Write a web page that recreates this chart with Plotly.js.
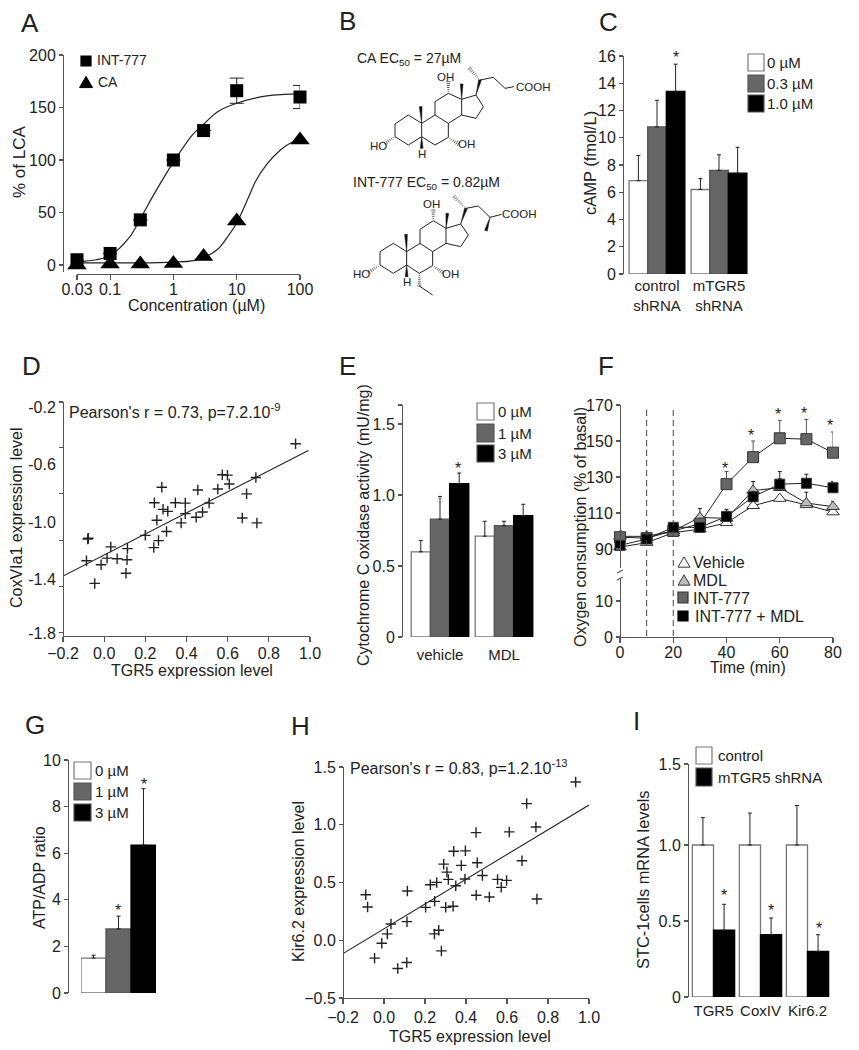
<!DOCTYPE html>
<html><head><meta charset="utf-8">
<script src="https://cdn.plot.ly/plotly-3.0.0.min.js"></script>
<style>html,body{margin:0;padding:0;background:#fff}#c{width:859px;height:1050px}</style>
</head><body><div id="c"></div>
<script>
// ---------- Panel A
const concTicks=[0.03,0.1,1,10,100];
const concTickText=['0.03','0.1','1','10','100'];
const doseConc=[0.03,0.1,0.3,1,3,10,100];
const int777Dose=[5,11,43,100,128,166,160];
const int777DoseErr=[0,0,0,0,0,12,11];
const caDose=[0,1,1,1.5,8,42,119];
const fitConcInt=[0.03,0.06,0.1,0.2,0.3,0.5,1,2,3,5,10,30,100];
const fitInt=[3,5,9,26,44,68,98,124,134,146,154,161,163];
const fitConcCa=[0.03,0.1,0.3,1,2,3,5,7,10,15,20,30,50,70,100];
const fitCa=[2,2,2,2.8,4,7,15,26,40,63,80,96,110,116,119];
// ---------- Panel C
const cGroups=['control<br>shRNA','mTGR5<br>shRNA'];
const c0=[6.85,6.2],c0Err=[1.85,0.8];
const c03=[10.8,7.6],c03Err=[1.95,1.15];
const c10=[13.4,7.4],c10Err=[2.0,1.9];
const cLegend=['0 µM','0.3 µM','1.0 µM'];
// ---------- Panel D
const dX=[0.930,0.574,0.599,0.608,0.552,0.455,0.737,0.692,0.280,0.244,0.346,0.394,0.286,0.309,0.510,0.478,0.394,0.447,0.671,0.742,0.256,0.374,0.303,0.200,0.264,0.241,0.113,0.032,-0.077,-0.080,0.111,0.063,0.014,-0.086,-0.015,0.106,-0.046];
const dY=[-0.472,-0.689,-0.692,-0.754,-0.789,-0.796,-0.708,-0.823,-0.777,-0.886,-0.886,-0.888,-0.932,-0.946,-0.888,-0.950,-0.962,-0.987,-0.992,-1.027,-1.008,-1.027,-1.087,-1.114,-1.151,-1.200,-1.207,-1.195,-1.135,-1.140,-1.285,-1.278,-1.274,-1.292,-1.320,-1.380,-1.451];
const dFitX=[-0.2,0.992],dFitY=[-1.40,-0.519];
// ---------- Panel E
const eGroups=['vehicle','MDL'];
const e0=[0.60,0.71],e0Err=[0.08,0.105];
const e1=[0.83,0.785],e1Err=[0.16,0.03];
const e3=[1.08,0.855],e3Err=[0.075,0.08];
const eLegend=['0 µM','1 µM','3 µM'];
// ---------- Panel F
const time=[0,10,20,30,40,50,60,70,80];
const vehicle=[91,93.5,99,101,104.5,114,118,114.5,110.5];
const vehicleErr=[1,1,1,1,1.5,1.5,1.5,1.5,1.5];
const mdl=[97,97,100,107.5,107,122.5,124,115.5,113.5];
const mdlErr=[3,1,1,5,4,5,5,6,3];
const int777=[96.5,96,100,104,126,141,151.5,151,143.5];
const int777Err=[2,1,1,3,7,9,10,11,11.5];
const intMdl=[92,95.5,102,102,108,119,126,126.5,124];
const intMdlErr=[1,1,1,1,4,3,7,5,3.5];
const fLegend=['Vehicle','MDL','INT-777','INT-777 + MDL'];
const stimTimes=[10,20];
// ---------- Panel G
const gDose=['0 µM','1 µM','3 µM'];
const gRatio=[1.5,2.75,6.35];
const gErr=[0.12,0.55,2.42];
// ---------- Panel H
const hX=[0.935,0.696,0.741,0.449,0.611,0.340,0.397,0.291,0.377,0.455,0.673,0.307,0.480,0.314,0.395,0.554,0.598,0.257,0.226,0.350,0.572,0.114,-0.089,0.450,0.514,0.746,0.247,-0.080,0.203,0.301,0.337,0.112,0.034,0.016,0.267,0.246,-0.011,-0.046,0.280,0.111,0.067];
const hY=[1.37,1.183,0.981,0.932,0.938,0.771,0.774,0.659,0.648,0.671,0.688,0.59,0.561,0.527,0.53,0.527,0.518,0.501,0.481,0.472,0.458,0.426,0.394,0.389,0.374,0.357,0.337,0.288,0.285,0.285,0.294,0.161,0.141,0.055,0.086,0.055,-0.026,-0.155,-0.092,-0.193,-0.245];
const hFitX=[-0.2,1.0],hFitY=[-0.115,1.171];
// ---------- Panel I
const iGenes=['TGR5','CoxIV','Kir6.2'];
const iControl=[1,1,1],iControlErr=[0.18,0.21,0.26];
const iShrna=[0.44,0.41,0.30],iShrnaErr=[0.17,0.11,0.11];
const iLegend=['control','mTGR5 shRNA'];

// ---------- helpers
const W=859,H=1050;
const FONT='"Liberation Sans", Arial, sans-serif';
const INK='#222',AXIS='#555',GRAY='#666',PALE='#bdbdbd';
const px=x=>x/W, py=y=>1-y/H;
const base=(o)=>Object.assign({showgrid:false,zeroline:false,showline:true,linecolor:AXIS,linewidth:1.4,
  ticks:'outside',ticklen:4,tickwidth:1.2,tickcolor:AXIS,tickfont:{family:FONT,size:16,color:INK},
  automargin:false,fixedrange:true},o);
const xAx=(l,r,y,o)=>base(Object.assign({domain:[px(l),px(r)],anchor:'free',position:py(y),ticklen:5},o));
const yAx=(t,b,x,o)=>base(Object.assign({domain:[py(b),py(t)],anchor:'free',position:px(x)},o));
const catAx=(l,r,y,o)=>xAx(l,r,y,Object.assign({showline:false,ticks:'',type:'category'},o));
const traces=[],shapes=[],ann=[];
function label(t,x,y,size,anchor,angle){ann.push({text:t,x:px(x),y:py(y),xref:'paper',yref:'paper',showarrow:false,
  xanchor:anchor||'left',yanchor:'middle',textangle:angle||0,font:{family:FONT,size:size||16,color:INK},borderpad:0,borderwidth:0});}
const star=(x,y)=>label('*',x,y+1,16,'center');
const yTitle=(t,x,y,size)=>label(t,x,y,size||16,'center',-90);
const xTitle=(t,x,y,size)=>label(t,x,y,size||16,'center');
function rect(x0,y0,x1,y1,fill,line){shapes.push({type:'rect',xref:'paper',yref:'paper',x0:px(x0),x1:px(x1),y0:py(y0),y1:py(y1),fillcolor:fill,line:{color:line,width:1.2}});}
function poly(pts,fill,line,close,w){const d=pts.map((p,i)=>(i?'L':'M')+px(p[0])+' '+py(p[1])).join(' ')+(close?' Z':'');
  shapes.push({type:'path',xref:'paper',yref:'paper',path:d,fillcolor:fill||'rgba(0,0,0,0)',line:{color:line||INK,width:w===undefined?1:w}});}
function tri(cx,cy,s,fill,line){poly([[cx-s/2,cy+s*0.43],[cx+s/2,cy+s*0.43],[cx,cy-s*0.43]],fill,line,true,1);}
function swatches(x0,x1,rows,colors,lines,labels,tx,size){rows.forEach((r,i)=>{rect(x0,r[0],x1,r[1],colors[i],lines[i]);label(labels[i],tx,(r[0]+r[1])/2,size||16);});}
function barTrace(xa,ya,x,y,err,color,line,extra){traces.push(Object.assign({type:'bar',xaxis:xa,yaxis:ya,x,y,
  marker:{color,line:{color:line,width:1.3}},
  error_y:{type:'data',symmetric:false,array:err,arrayminus:err.map(()=>0),color:INK,thickness:1,width:2},
  showlegend:false,cliponaxis:false,hoverinfo:'skip'},extra||{}));}

// ---------- A
traces.push({type:'scatter',mode:'lines',xaxis:'x',yaxis:'y',x:fitConcInt,y:fitInt,line:{color:INK,width:1.2,shape:'spline'},showlegend:false,cliponaxis:false,hoverinfo:'skip'});
traces.push({type:'scatter',mode:'lines',xaxis:'x',yaxis:'y',x:fitConcCa,y:fitCa,line:{color:INK,width:1.2,shape:'spline'},showlegend:false,cliponaxis:false,hoverinfo:'skip'});
traces.push({type:'scatter',mode:'markers',name:'INT-777',xaxis:'x',yaxis:'y',x:doseConc,y:int777Dose,marker:{symbol:'square',size:13,color:'#000'},
  error_y:{type:'data',array:int777DoseErr,color:INK,thickness:1,width:7},showlegend:false,cliponaxis:false,hoverinfo:'skip'});
traces.push({type:'scatter',mode:'markers',name:'CA',xaxis:'x',yaxis:'y',x:doseConc,y:caDose,marker:{symbol:'triangle-up',size:17,color:'#000'},showlegend:false,cliponaxis:false,hoverinfo:'skip'});
rect(81,56,91,66,'#000','#000');label('INT-777',97,60,14);
tri(86,82,13,'#000','#000');label('CA',98,82,14);
xTitle('Concentration (µM)',196,305);yTitle('% of LCA',20,162,17);

// ---------- C
barTrace('x2','y2',cGroups,c0,c0Err,'#fff','#777');
barTrace('x2','y2',cGroups,c03,c03Err,GRAY,'#555');
barTrace('x2','y2',cGroups,c10,c10Err,'#000','#000');
swatches(748,764,[[54,71],[75,92],[95,112]],['#fff',GRAY,'#000'],['#777','#555','#555'],cLegend,767,15);
star(676,57);
yTitle('cAMP (fmol/L)',590,163,16.5);

// ---------- D
traces.push({type:'scatter',mode:'lines',xaxis:'x3',yaxis:'y3',x:dFitX,y:dFitY,line:{color:INK,width:1.1},showlegend:false,hoverinfo:'skip'});
traces.push({type:'scatter',mode:'markers',xaxis:'x3',yaxis:'y3',x:dX,y:dY,marker:{symbol:'cross-thin',size:7.5,line:{color:INK,width:1.4}},showlegend:false,cliponaxis:false,hoverinfo:'skip'});
label("Pearson's r = 0.73, p=7.2.10<sup>-9</sup>",69,411,16);
xTitle('TGR5 expression level',192,670);yTitle('CoxVIa1 expression level',16,518);

// ---------- E
barTrace('x4','y4',eGroups,e0,e0Err,'#fff','#777');
barTrace('x4','y4',eGroups,e1,e1Err,GRAY,'#555');
barTrace('x4','y4',eGroups,e3,e3Err,'#000','#000');
swatches(477,494,[[403,420],[424,442],[445,462]],['#fff',GRAY,'#000'],['#777','#555','#555'],eLegend,498,15);
star(458,467);
yTitle('Cytochrome C oxidase activity (mU/mg)',363,525);

// ---------- F
const fTrace=(y,err,sym,color,size,errCol)=>traces.push({type:'scatter',mode:'lines+markers',xaxis:'x5',yaxis:'y5',x:time,y,
  line:{color:INK,width:1},marker:{symbol:sym,size,color,line:{color:'#333',width:1}},
  error_y:{type:'data',symmetric:false,array:err,arrayminus:err.map(()=>0),color:errCol,thickness:1,width:2},
  showlegend:false,cliponaxis:false,hoverinfo:'skip'});
fTrace(vehicle,vehicleErr,'triangle-up','#fff',11,INK);
fTrace(mdl,mdlErr,'triangle-up',PALE,11,INK);
fTrace(int777,int777Err,'square',GRAY,11,'#555');
fTrace(intMdl,intMdlErr,'square','#000',10,INK);
traces.push({type:'scatter',mode:'markers',xaxis:'x5',yaxis:'y6',x:[null],y:[null],showlegend:false,hoverinfo:'skip'});
stimTimes.forEach(t=>shapes.push({type:'line',xref:'x5',yref:'paper',x0:t,x1:t,y0:py(636),y1:py(406),line:{color:'#444',width:1,dash:'6px,4px'}}));
poly([[617,573],[623,570]],null,AXIS,false,1.2);poly([[617,580],[623,577]],null,AXIS,false,1.2);
tri(684,562,12,'#fff','#333');tri(684,580,12,PALE,'#333');
rect(678,592,688,603,GRAY,'#333');rect(678,611,688,621,'#000','#000');
[562,580,598,616].forEach((y,i)=>label(fLegend[i],i===3?695:693,y,16));
[[725,467],[751,434],[778,414],[804,412],[830,424]].forEach(p=>star(p[0],p[1]));
yTitle('Oxygen consumption (% of basal)',580,527);
xTitle('Time (min)',748,667);

// ---------- G
barTrace('x6','y7',gDose,gRatio,gErr,['#fff',GRAY,'#000'],['#777','#555','#000'],{width:1});
swatches(74,91,[[762,779],[783,800],[804,821]],['#fff',GRAY,'#000'],['#777','#555','#555'],gDose,95,15);
star(118,909);star(144,783);
yTitle('ATP/ADP ratio',39,878);

// ---------- H
traces.push({type:'scatter',mode:'lines',xaxis:'x7',yaxis:'y8',x:hFitX,y:hFitY,line:{color:INK,width:1.1},showlegend:false,hoverinfo:'skip'});
traces.push({type:'scatter',mode:'markers',xaxis:'x7',yaxis:'y8',x:hX,y:hY,marker:{symbol:'cross-thin',size:7.5,line:{color:INK,width:1.4}},showlegend:false,cliponaxis:false,hoverinfo:'skip'});
label("Pearson's r = 0.83, p=1.2.10<sup>-13</sup>",350,767,16);
xTitle('TGR5 expression level',470,1036);yTitle('Kir6.2 expression level',298,882);

// ---------- I
barTrace('x8','y9',iGenes,iControl,iControlErr,'#fff','#777');
barTrace('x8','y9',iGenes,iShrna,iShrnaErr,'#000','#000');
swatches(696,712,[[747,764],[768,786]],['#fff','#000'],['#777','#555'],iLegend,718,15);
star(724,894);star(771,909);star(819,927);
yTitle('STC-1cells mRNA levels',643,880,16.4);

// ---------- B molecules (illustration)
const zb=(x,y)=>[330+x/3,y/3];
function bonds(chain,close){poly(chain.map(p=>zb(p[0],p[1])),null,INK,close,1);}
function wedge(a,b){const A=zb(a[0],a[1]),B=zb(b[0],b[1]);const dx=B[0]-A[0],dy=B[1]-A[1],l=Math.hypot(dx,dy);const nx=-dy/l*1.4,ny=dx/l*1.4;
  poly([A,[B[0]+nx,B[1]+ny],[B[0]-nx,B[1]-ny]],'#111','#111',true,0.5);}
function hash(a,b){const A=zb(a[0],a[1]),B=zb(b[0],b[1]);const dx=B[0]-A[0],dy=B[1]-A[1],l=Math.hypot(dx,dy);const n=Math.round(l/2);
  for(let i=1;i<=n;i++){const t=i/n,w=0.4+t*1.8,nx=-dy/l*w,ny=dx/l*w,cx=A[0]+dx*t,cy=A[1]+dy*t;poly([[cx-nx,cy-ny],[cx+nx,cy+ny]],null,INK,false,0.7);}}
function atom(t,x,y){const p=zb(x,y);label(t,p[0],p[1],11.5,'center');}
// CA
bonds([[195,372],[235,345],[275,370],[275,410],[235,435],[195,410]],true);
bonds([[275,370],[315,345],[355,370],[355,412],[315,435],[275,410]]);
bonds([[315,345],[315,305],[355,280],[395,298],[395,345],[355,370]]);
bonds([[395,298],[438,285],[460,320],[438,355],[395,345]]);
bonds([[450,240],[490,232],[525,265],[552,260]]);
wedge([275,370],[272,320]);wedge([395,298],[395,252]);wedge([438,285],[450,240]);wedge([275,410],[275,445]);
hash([450,240],[418,205]);hash([355,280],[355,245]);hash([195,410],[165,430]);hash([355,412],[385,432]);
atom('OH',348,230);atom('HO',145,438);atom('OH',408,432);atom('H',276,462);atom('COOH',610,260);
label('CA EC<sub>50</sub> = 27µM',357,59,14);
// INT-777
bonds([[150,755],[190,730],[230,755],[230,795],[190,820],[150,795]],true);
bonds([[230,755],[270,730],[308,755],[308,797],[268,820],[230,795]]);
bonds([[270,730],[270,688],[310,662],[348,685],[348,730],[308,755]]);
bonds([[348,685],[392,672],[415,705],[392,740],[348,730]]);
bonds([[408,625],[445,618],[480,652],[515,643]]);
bonds([[268,858],[308,885]]);
wedge([230,755],[228,703]);wedge([348,685],[352,640]);wedge([392,672],[408,625]);wedge([480,652],[468,692]);wedge([230,795],[230,830]);
hash([408,625],[372,590]);hash([310,662],[310,630]);hash([150,795],[118,815]);hash([308,797],[338,817]);hash([268,820],[268,858]);
atom('OH',305,613);atom('HO',95,822);atom('OH',362,822);atom('H',230,845);atom('COOH',567,643);
label('INT-777 EC<sub>50</sub> = 0.82µM',353,183,14);

// ---------- panel letters
[['A',30,23],['B',347,21],['C',608,22],['D',31,366],['E',347,366],['F',606,366],['G',35,725],['H',300,726],['I',636,721]]
  .forEach(l=>label(l[0],l[1],l[2],26,'center'));

const layout={width:W,height:H,margin:{l:0,r:0,t:0,b:0},paper_bgcolor:'#fff',plot_bgcolor:'rgba(0,0,0,0)',
  barmode:'group',bargap:0.1,bargroupgap:0,showlegend:false,shapes,annotations:ann,font:{family:FONT,color:INK},
  // A
  xaxis:xAx(77,300,274,{type:'log',range:[Math.log10(0.03),2],tickvals:concTicks,ticktext:concTickText,ticklabelstandoff:-5}),
  yaxis:yAx(55,272,63,{range:[-6.67,200],tickvals:[0,50,100,150,200]}),
  // C
  xaxis2:catAx(626,750,274,{ticklabelstandoff:1,tickfont:{family:FONT,size:15,color:INK}}),
  yaxis2:yAx(56,274,623,{range:[0,16],dtick:2}),
  // D
  xaxis3:xAx(63,310,636,{range:[-0.2,1],dtick:0.2,tickformat:'.1f',ticklabelstandoff:-3}),
  yaxis3:yAx(402,636,63,{range:[-1.82,-0.179],ticks:'',tickvals:[-1.8,-1.42,-1.02,-0.62,-0.22],ticktext:['-1.8','-1.4','-1.0','-0.6','-0.2'],
    ticklabelstandoff:4,
    minor:{ticks:'outside',ticklen:4,tickwidth:1.2,tickcolor:AXIS,tickvals:[-1.793,-1.474,-1.149,-0.823,-0.498,-0.179],showgrid:false}}),
  // E
  xaxis4:catAx(408,536,637,{ticklabelstandoff:7,tickfont:{family:FONT,size:15,color:INK}}),
  yaxis4:yAx(405,637,402,{range:[0,1.634],tickvals:[0,0.5,1,1.5,1.634],ticktext:['0','0.5','1.0','1.5','']}),
  // F
  xaxis5:xAx(620,833,637,{range:[0,80],dtick:20,ticklabelstandoff:-5}),
  yaxis5:yAx(405,568,620,{range:[79.4,170],tickvals:[90,110,130,150,170]}),
  yaxis6:yAx(578,637,620,{range:[0,16.4],tickvals:[0,10]}),
  // G
  xaxis6:catAx(81,156,993,{showticklabels:false}),
  yaxis7:yAx(760,993,68,{range:[0,10],dtick:2}),
  // H
  xaxis7:xAx(343,589,998,{range:[-0.2,1],dtick:0.2,tickformat:'.1f',ticklabelstandoff:-1}),
  yaxis8:yAx(767,998,343,{range:[-0.5,1.5],tickvals:[-0.5,0,0.5,1,1.5],tickformat:'.1f'}),
  // I
  xaxis8:catAx(690,831,997,{ticklabelstandoff:3,tickfont:{family:FONT,size:15,color:INK}}),
  yaxis9:yAx(764,997,688,{range:[0,1.533],tickvals:[0,0.5,1,1.533],ticktext:['0','0.5','1.0','1.5']})
};
Plotly.newPlot('c',traces,layout,{staticPlot:true,displayModeBar:false});
</script></body></html>
